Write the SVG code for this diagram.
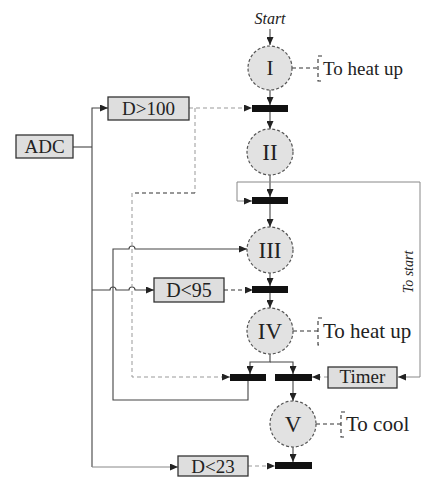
<svg xmlns="http://www.w3.org/2000/svg" width="422" height="477" viewBox="0 0 422 477">
<defs>
<marker id="ah" markerUnits="userSpaceOnUse" markerWidth="8" markerHeight="7" refX="8" refY="3.5" orient="auto">
<path d="M0,0 L8,3.5 L0,7 z" fill="#222"/>
</marker>
<style>
.bg{fill:#fff}
.st{fill:#e2e2e2;stroke:#555;stroke-width:1.2;stroke-dasharray:3,2}
.box{fill:#dedede;stroke:#333;stroke-width:1.3}
.bar{fill:#111}
.lbl{font-family:'Liberation Serif','Times New Roman','DejaVu Serif',serif;fill:#222}
.c{text-anchor:middle}
.ln{fill:none;stroke:#444;stroke-width:1.1}
.lg{fill:none;stroke:#888;stroke-width:1}
.dg{fill:none;stroke:#999;stroke-width:1;stroke-dasharray:4,3}
.dk{fill:none;stroke:#333;stroke-width:1.1;stroke-dasharray:4,3}
</style>
</defs>
<rect class="bg" x="0" y="0" width="422" height="477"/>

<g id="connectors">
<path class="ln" d="M270,29 V45" marker-end="url(#ah)"/>
<path class="ln" d="M270,90 V105" marker-end="url(#ah)"/>
<path class="ln" d="M270,111 V129" marker-end="url(#ah)"/>
<path class="ln" d="M270,175 V197" marker-end="url(#ah)"/>
<path class="ln" d="M270,204 V227" marker-end="url(#ah)"/>
<path class="ln" d="M270,273 V286" marker-end="url(#ah)"/>
<path class="ln" d="M270,293 V308" marker-end="url(#ah)"/>
<path class="ln" d="M270,354 V362 H250 V374" marker-end="url(#ah)"/>
<path class="ln" d="M270,362 H293 V374" marker-end="url(#ah)"/>
<path class="ln" d="M293,381 V401" marker-end="url(#ah)"/>
<path class="ln" d="M293,447 V462" marker-end="url(#ah)"/>
<path class="ln" d="M248,381 V400 H113 V249 H129 A3,3 0 0 1 135,249 H247" marker-end="url(#ah)"/>
<path class="lg" d="M420,182 H237 V201 H252" marker-end="url(#ah)"/>
<path class="lg" d="M420,182 V377 H398" marker-end="url(#ah)"/>
<path class="ln" d="M73,147 H92"/>
<path class="ln" d="M92,467 V108 H108" marker-end="url(#ah)"/>
<path class="ln" d="M92,290 H110 A3,3 0 0 1 116,290 H129 A3,3 0 0 1 135,290 H154" marker-end="url(#ah)"/>
<path class="lg" d="M92,467 H178" marker-end="url(#ah)"/>
<path class="dg" d="M189,108 H252" marker-end="url(#ah)"/>
<path class="dg" d="M195,108 V193"/>
<path class="dk" d="M195,193 H132"/>
<path class="dg" d="M132,193 V377 H230" marker-end="url(#ah)"/>
<path class="dk" d="M224,290 H253" marker-end="url(#ah)"/>
<path class="dg" d="M248,466 H275" marker-end="url(#ah)"/>
<path class="dg" d="M328,377 H312" marker-end="url(#ah)"/>
<path class="dk" d="M292,68 H318"/>
<path class="dk" d="M293,331 H318"/>
<path class="dk" d="M316,424 H341"/>
</g>

<g id="start"><text class="lbl c" x="270" y="24" font-size="16" font-style="italic">Start</text></g>

<g id="step1"><circle class="st" cx="270" cy="68" r="22"/><text class="lbl c" x="270" y="75" font-size="21">I</text></g>
<g id="step2"><circle class="st" cx="270" cy="152" r="23"/><text class="lbl c" x="270" y="160" font-size="23">II</text></g>
<g id="step3"><circle class="st" cx="270" cy="250" r="23"/><text class="lbl c" x="270" y="258" font-size="23">III</text></g>
<g id="step4"><circle class="st" cx="270" cy="331" r="23"/><text class="lbl c" x="270" y="339" font-size="23">IV</text></g>
<g id="step5"><circle class="st" cx="293" cy="424" r="23"/><text class="lbl c" x="293" y="432" font-size="23">V</text></g>

<g id="bar1"><rect class="bar" x="252" y="105" width="36" height="7"/></g>
<g id="bar2"><rect class="bar" x="252" y="197" width="36" height="7"/></g>
<g id="bar3"><rect class="bar" x="252" y="286" width="36" height="7"/></g>
<g id="bar4a"><rect class="bar" x="230" y="374" width="36" height="7"/></g>
<g id="bar4b"><rect class="bar" x="275" y="374" width="37" height="7"/></g>
<g id="bar5"><rect class="bar" x="275" y="462" width="37" height="7"/></g>

<g id="adc"><rect class="box" x="16" y="135" width="57" height="23"/><text class="lbl c" x="44.5" y="153" font-size="19">ADC</text></g>
<g id="d100"><rect class="box" x="108" y="97" width="81" height="23"/><text class="lbl c" x="148.5" y="115" font-size="19">D&gt;100</text></g>
<g id="d95"><rect class="box" x="154" y="278" width="70" height="24"/><text class="lbl c" x="189" y="297" font-size="20">D&lt;95</text></g>
<g id="d23"><rect class="box" x="178" y="456" width="70" height="20"/><text class="lbl c" x="213" y="473" font-size="19">D&lt;23</text></g>
<g id="timer"><rect class="box" x="328" y="367" width="69" height="21"/><text class="lbl c" x="362.5" y="383" font-size="19">Timer</text></g>

<g id="act1"><path class="dk" d="M322,56 H318 V81 H322"/><text class="lbl" x="323" y="75" font-size="19">To heat up</text></g>
<g id="act4"><path class="dk" d="M322,318 H318 V345 H322"/><text class="lbl" x="323" y="338" font-size="21">To heat up</text></g>
<g id="act5"><path class="dk" d="M345,412 H341 V437 H345"/><text class="lbl" x="346" y="431" font-size="21">To cool</text></g>

<g id="tostart"><text class="lbl c" transform="translate(413,272) rotate(-90)" font-size="14" font-style="italic">To start</text></g>
</svg>
